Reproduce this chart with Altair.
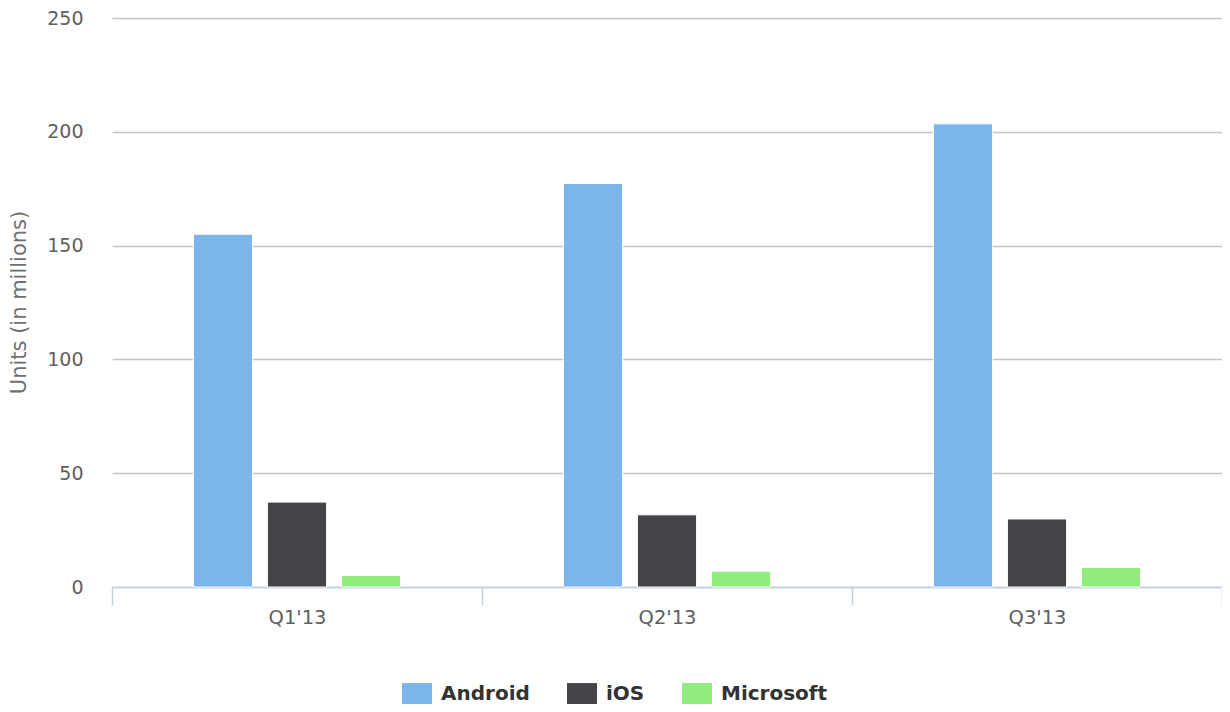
import altair as alt
import pandas as pd

quarters = ["Q1'13", "Q2'13", "Q3'13"]
series = ["Android", "iOS", "Microsoft"]
android = [155.0, 177.3, 203.5]
ios = [37.3, 31.7, 29.9]
microsoft = [5.1, 6.9, 8.6]
colors = ["#7cb5ec", "#434348", "#90ed7d"]

rows = []
for name, vals in zip(series, [android, ios, microsoft]):
    for q, v in zip(quarters, vals):
        rows.append({"quarter": q, "os": name, "units": v})
df = pd.DataFrame(rows)

FONT = "DejaVu Sans"

chart = alt.Chart(df).mark_bar(stroke="white", strokeWidth=1).encode(
    x=alt.X("quarter:N", sort=quarters,
            scale=alt.Scale(paddingInner=0, paddingOuter=0),
            axis=alt.Axis(title=None, labelAngle=0, labelFont=FONT, labelFontSize=19.5,
                          labelColor="#606060", domainColor="#C0D0E0", domainWidth=1.5,
                          tickColor="#C0D0E0", tickWidth=1.5, tickSize=18, tickBand="extent",
                          labelPadding=3, labelBaseline="top", grid=False)),
    xOffset=alt.XOffset("os:N", sort=series,
                        scale=alt.Scale(range=[74, 296], paddingInner=0.2, paddingOuter=0.1)),
    y=alt.Y("units:Q", scale=alt.Scale(domain=[0, 250], nice=False),
            axis=alt.Axis(title="Units (in millions)", values=[0, 50, 100, 150, 200, 250],
                          labelFont=FONT, labelFontSize=19, labelColor="#606060",
                          labelPadding=29, ticks=False, domain=False,
                          gridColor="#C4C4C4", gridWidth=1.5,
                          titleFont=FONT, titleFontSize=21, titleFontWeight="normal",
                          titleColor="#707070", titleX=-93, titleY=284, titleAngle=270,
                          titleAlign="center", titleBaseline="middle")),
    color=alt.Color("os:N", sort=series,
                    scale=alt.Scale(domain=series, range=colors),
                    legend=alt.Legend(title=None, orient="none", direction="horizontal",
                                      legendX=290, legendY=661,
                                      symbolType="M-1,-0.73H1V0.73H-1Z", symbolSize=900,
                                      symbolStrokeWidth=0, symbolOpacity=1,
                                      labelFont=FONT, labelFontSize=20, labelFontWeight="bold",
                                      labelColor="#333333", labelOffset=9, columnPadding=37,
                                      padding=0)),
).properties(
    width=1110, height=569,
    autosize="none",
    padding={"left": 104, "top": 10, "right": 0, "bottom": 117},
).configure_view(stroke=None)

chart.save("out.html", embed_options={"renderer": "svg", "actions": False})
